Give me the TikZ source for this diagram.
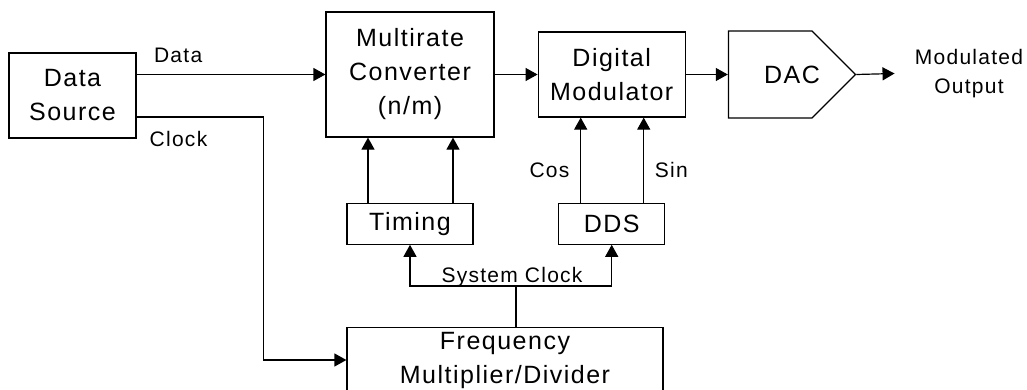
\documentclass[tikz,border=0pt]{standalone}
\usepackage{fontspec}
\setmainfont{Liberation Sans}[LetterSpace=6]
\usetikzlibrary{arrows.meta,positioning,shapes.symbols,calc}
\tikzstyle{block}=[rectangle,draw=black,semithick,inner sep=2pt,align=center,font=\fontsize{12.5pt}{17pt}\selectfont]
\tikzstyle{dacblk}=[signal,signal to=east,signal pointer angle=90,draw=black,semithick,inner sep=0pt]
\tikzstyle{lbl}=[align=center,font=\fontsize{10.5pt}{14.5pt}\selectfont]
\tikzstyle{sig}=[-{Triangle[length=6pt,width=6.5pt]},semithick]

\begin{document}
\begin{tikzpicture}[x=0.5pt,y=-0.5pt]
    \useasboundingbox (0,0) rectangle (1027,390);

    % Bloecke
    \node[block, minimum width=63.5pt, minimum height=42.5pt] (src) at (72.5,95.5) {Data\\Source};
    \node[block, minimum width=84pt, minimum height=62.5pt] (conv) at (410,74.5) {Multirate\\Converter\\(n/m)};
    \node[block, minimum width=73.5pt, minimum height=42.5pt] (mod) [right=21.5pt of conv] {Digital\\Modulator};
    \node[dacblk, minimum width=63.5pt, minimum height=43.5pt] (dac) [right=21pt of mod] {};
    \node[font=\fontsize{12.5pt}{17pt}\selectfont] (dactxt) at ($(dac.west)!0.5!(dac.east)$) {DAC};
    \node[lbl, inner xsep=10pt] (out) at (969,73.5) {Modulated\\Output};
    \node[block, minimum width=63pt, minimum height=20.5pt] (timing) [below=32.5pt of conv] {Timing};
    \node[block, minimum width=53pt, minimum height=20.5pt] (dds) [below=42.5pt of mod] {DDS};
    \node[block, minimum width=158pt, minimum height=32pt] (freq) at (505,360) {Frequency\\Multiplier/Divider};

    % Hilfspunkte
    \coordinate (t1) at ([xshift=-21pt]timing.north);
    \coordinate (t2) at ([xshift=21.5pt]timing.north);
    \coordinate (d1) at ([xshift=-15.5pt]dds.north);
    \coordinate (d2) at ([xshift=16pt]dds.north);
    \coordinate (sc) at (516,286);

    % Signale
    \draw [sig] ($(src.east)+(0,-21)$) to node[lbl, pos=0.22, above=2.5pt] {Data} (conv.west);
    \draw [sig] ($(src.east)+(0,21.5)$) -- node[lbl, pos=0.33, below=3.4pt] {Clock} ++(127,0) |- (freq.west);
    \draw [sig] (conv) -- (mod);
    \draw [sig] (mod) -- (dac);
    \draw [sig] (dac.east) -- (out.west);
    \draw [sig] (t1) -- (t1 |- conv.south);
    \draw [sig] (t2) -- (t2 |- conv.south);
    \draw [sig] (d1) -- node[lbl, pos=0.38, left=2pt] {Cos} (d1 |- mod.south);
    \draw [sig] (d2) -- node[lbl, pos=0.38, right=2pt] {Sin} (d2 |- mod.south);
    \draw [semithick] (freq.north -| sc) -- (sc);
    \draw [sig] (sc) -| (timing.south);
    \draw [sig] (sc) -| (dds.south);
    \node[lbl, anchor=base] (sclbl) at ($(sc)+(-4,-3.3)$) {System Clock};

\end{tikzpicture}
\end{document}
